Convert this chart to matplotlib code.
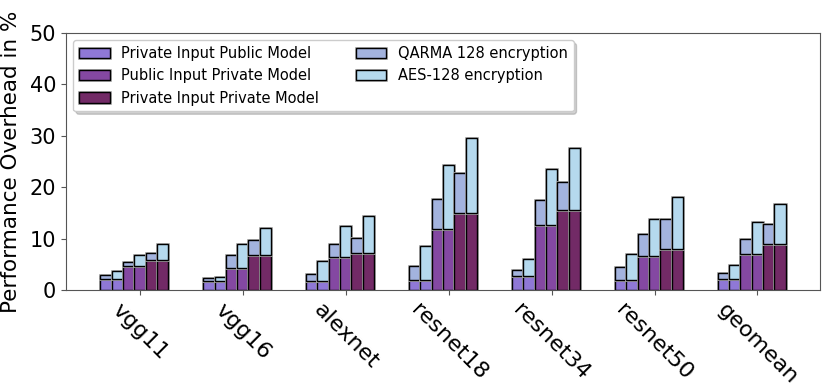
import numpy as np
import matplotlib.pyplot as plt
import matplotlib.patheffects as pe

networks = ['vgg11', 'vgg16', 'alexnet', 'resnet18', 'resnet34', 'resnet50', 'geomean']

# base overhead of each privacy mode (%)
pipum = [2.1, 1.75, 1.75, 1.95, 2.7, 1.95, 2.1]
puipm = [4.6, 4.2, 6.5, 11.9, 12.6, 6.7, 7.1]
pipm = [5.8, 6.75, 7.3, 14.9, 15.5, 7.9, 8.9]

# total overhead incl. encryption (%)
pipum_qarma = [2.9, 2.3, 3.05, 4.7, 4.0, 4.4, 3.25]
pipum_aes = [3.8, 2.5, 5.7, 8.55, 6.0, 7.1, 4.8]
puipm_qarma = [5.4, 6.8, 8.9, 17.7, 17.6, 11.0, 10.0]
puipm_aes = [6.9, 8.9, 12.4, 24.3, 23.5, 13.75, 13.3]
pipm_qarma = [7.2, 9.7, 10.2, 22.8, 21.1, 13.75, 12.8]
pipm_aes = [9.0, 12.1, 14.5, 29.5, 27.6, 18.1, 16.7]

mode_labels = ['Private Input Public Model', 'Public Input Private Model',
               'Private Input Private Model']
mode_colors = ['#8f78d6', '#8448a2', '#722a66']
enc_labels = ['QARMA 128 encryption', 'AES-128 encryption']
enc_colors = ['#a3b3de', '#b5d9ee']

bases = [pipum, puipm, pipm]
totals = [[pipum_qarma, pipum_aes], [puipm_qarma, puipm_aes], [pipm_qarma, pipm_aes]]

fig = plt.figure(figsize=(8.3, 3.92), dpi=100)
ax = fig.add_axes([0.0795, 0.26, 0.9085, 0.656])

x = np.arange(len(networks))
w = 0.11
effects = [pe.Stroke(linewidth=2.0, foreground='#aaaaaa'), pe.Normal()]

for m in range(3):
    base = np.array(bases[m])
    for e in range(2):
        i = 2 * m + e
        pos = x + (i - 3) * w
        top = np.array(totals[m][e]) - base
        b1 = ax.bar(pos, base, w, color=mode_colors[m], edgecolor='black',
                    linewidth=1.0, label=mode_labels[m] if e == 0 else None)
        b2 = ax.bar(pos, top, w, bottom=base, color=enc_colors[e], edgecolor='black',
                    linewidth=1.0, label=enc_labels[e] if m == 0 else None)
        for p in list(b1) + list(b2):
            p.set_path_effects(effects)

ax.set_ylim(0, 50)
ax.set_yticks([0, 10, 20, 30, 40, 50])
ax.set_xticks(x)
ax.set_xticklabels(networks, rotation=-45, fontsize=16)
ax.tick_params(axis='y', labelsize=15)
ax.set_ylabel('Performance Overhead in %', fontsize=15.5, labelpad=6)
for s in ax.spines.values():
    s.set_color('#555555')
ax.tick_params(color='#555555')

handles, labels = ax.get_legend_handles_labels()
order = [labels.index(l) for l in mode_labels + enc_labels]
ax.legend([handles[k] for k in order], [labels[k] for k in order],
          loc='upper left', ncol=2, fontsize=10.5, shadow={'alpha': 0.25},
          handlelength=2.1, columnspacing=2.5)

fig.savefig('out.png', dpi=100)
